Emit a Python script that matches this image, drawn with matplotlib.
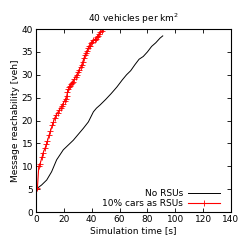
import numpy as np
from matplotlib import pyplot as plt

plt.rcParams['font.family'] = 'DejaVu Sans'
plt.rcParams['font.size'] = 6.5

# No RSUs (black)
t_none = [0, 4, 7.7, 11.2, 14.8, 19.6, 26.8, 34, 37.6, 41.2, 43.4, 46,
          50, 54, 58, 62, 65, 68, 71, 74, 77, 80, 83, 86, 89, 91]
r_none = [5.0, 5.9, 7.0, 8.8, 11.4, 13.6, 15.7, 18.3, 19.7, 21.9, 22.7, 23.4, 24.6,
          25.9, 27.3, 28.9, 30.0, 30.9, 32.2, 33.4, 34.0, 35.0, 36.2, 37.0, 38.0, 38.5]

# 10% cars as RSUs (red)
t_rsu = [0, 1, 2, 3, 4.3, 5.2, 6.4, 7.5, 8.2, 9.4, 10.4, 11.8, 12.5, 13.5, 14.5, 15.5,
         16.5, 17.7, 18.5, 19.5, 20.5, 21.3, 22.0, 22.6, 23.2, 23.8, 24.4, 25.0, 25.6, 26.5,
         27.5, 28.5, 29.3, 30.2, 31.0, 32.0, 32.8, 33.6, 34.4, 35.2, 35.9, 36.6, 37.4, 38.1,
         38.8, 39.6, 40.4, 41.2, 42.0, 42.8, 43.6, 44.5, 45.4, 46.3, 47.2, 48.3]
r_rsu = [5.0, 5.2, 10.0, 10.6, 12.0, 13.0, 13.9, 14.8, 15.5, 16.8, 17.7, 19.1, 19.7, 20.6,
         21.2, 21.7, 22.2, 22.7, 23.2, 23.7, 24.3, 24.8, 25.3, 26.2, 26.8, 27.3, 27.6, 27.9,
         28.2, 28.5, 29.0, 29.6, 30.0, 30.6, 31.0, 31.6, 32.1, 32.9, 33.6, 34.3, 34.7, 35.2,
         35.8, 36.2, 36.4, 36.9, 37.2, 37.5, 37.7, 37.9, 38.2, 38.5, 38.9, 39.3, 39.6, 40.0]

fig = plt.figure(figsize=(2.49, 2.44), dpi=100)
ax = fig.add_axes([0.1446, 0.1311, 0.7831, 0.7499])

ax.plot(t_none, r_none, color='black', lw=0.7, label='No RSUs')
ax.plot(t_rsu, r_rsu, color='red', lw=0.8, marker='+', ms=4, mew=0.6,
        label='10% cars as RSUs')

ax.set_xlim(0, 140)
ax.set_ylim(0, 40)
ax.set_xticks(np.arange(0, 141, 20))
ax.set_yticks(np.arange(0, 41, 5))
ax.tick_params(direction='in', top=True, right=True, length=3, width=0.6, pad=2)
for s in ax.spines.values():
    s.set_linewidth(0.8)

ax.set_title('40 vehicles per km$^2$', fontsize=6.5, pad=5)
ax.set_xlabel('Simulation time [s]', labelpad=2)
ax.set_ylabel('Message reachability [veh]', labelpad=1)

ax.legend(loc='lower right', bbox_to_anchor=(0.944, 0.02), frameon=False,
          markerfirst=False, numpoints=1, handlelength=3.6, borderaxespad=0,
          borderpad=0, labelspacing=0.15, handletextpad=0.5)

fig.savefig('out.png', dpi=100)
